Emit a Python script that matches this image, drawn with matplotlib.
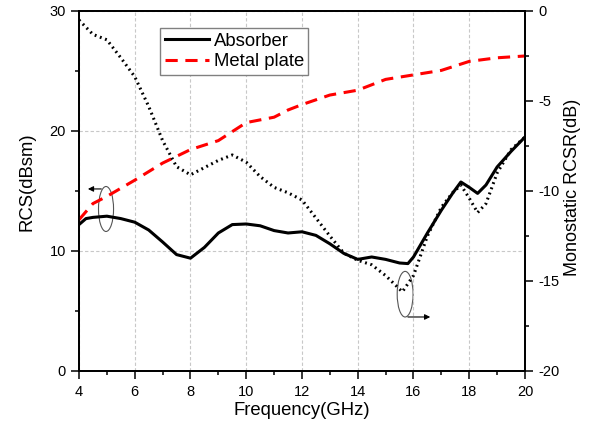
import matplotlib.pyplot as plt
from matplotlib.patches import Ellipse

plt.rcParams['font.family'] = ['Liberation Sans', 'DejaVu Sans']
plt.rcParams['axes.unicode_minus'] = False

# Absorber RCS (dBsm, left axis)
f_abs = [4.0, 4.25, 4.5, 5.0, 5.5, 6.0, 6.5, 7.0, 7.5, 8.0, 8.5, 9.0, 9.5, 10.0, 10.5, 11.0,
         11.5, 12.0, 12.5, 13.0, 13.5, 14.0, 14.5, 15.0, 15.5, 15.8, 16.0, 16.5, 17.0, 17.4,
         17.7, 18.0, 18.3, 18.6, 19.0, 19.5, 20.0]
rcs_abs = [12.2, 12.7, 12.8, 12.9, 12.7, 12.4, 11.75, 10.75, 9.7, 9.4, 10.3, 11.5, 12.2, 12.25,
           12.1, 11.7, 11.5, 11.6, 11.3, 10.6, 9.8, 9.3, 9.5, 9.3, 9.0, 8.95, 9.5, 11.5, 13.4,
           14.8, 15.75, 15.3, 14.8, 15.5, 17.0, 18.3, 19.5]

# Metal plate RCS, right axis scale
f_metal = [4.0, 4.5, 5.0, 6.0, 7.0, 8.0, 9.0, 10.0, 11.0, 11.5, 12.0, 13.0, 14.0, 15.0,
           16.0, 17.0, 18.0, 19.0, 20.0]
rcs_metal = [-11.6, -10.7, -10.3, -9.4, -8.45, -7.7, -7.2, -6.2, -5.9, -5.5, -5.2, -4.67,
             -4.4, -3.8, -3.55, -3.3, -2.8, -2.6, -2.5]

# Monostatic RCSR of absorber (dB, right axis)
f_rcsr = [4.0, 4.5, 5.0, 5.5, 6.0, 6.5, 7.0, 7.5, 8.0, 8.5, 9.0, 9.5, 10.0, 10.5, 11.0, 11.5,
          12.0, 12.5, 13.0, 13.5, 14.0, 14.5, 15.0, 15.6, 16.0, 16.5, 17.0, 17.4, 17.7, 18.0,
          18.3, 18.6, 19.0, 19.5, 20.0]
rcsr = [-0.5, -1.3, -1.6, -2.6, -3.65, -5.3, -7.2, -8.65, -9.1, -8.7, -8.3, -8.0, -8.4,
        -9.2, -9.8, -10.1, -10.5, -11.5, -12.5, -13.45, -13.85, -14.1, -14.7, -15.6, -14.7,
        -12.5, -10.9, -10.1, -9.67, -10.4, -11.2, -10.7, -9.0, -7.7, -7.0]

fig = plt.figure(figsize=(5.97, 4.21), dpi=100)
ax = fig.add_axes([0.1323, 0.1188, 0.7471, 0.8551])
ax2 = ax.twinx()

l1, = ax.plot(f_abs, rcs_abs, color='black', lw=2.2, label='Absorber')
l2, = ax2.plot(f_metal, rcs_metal, color='red', lw=2.2, linestyle=(0, (4, 2.5)), label='Metal plate')
ax2.plot(f_rcsr, rcsr, color='black', lw=2.2, linestyle=(0, (0.6, 1.2)))

ax.set_xlim(4, 20)
ax.set_ylim(0, 30)
ax2.set_ylim(-20, 0)
ax.set_xticks(range(4, 21, 2))
ax.set_xticks(range(5, 20, 2), minor=True)
ax.set_yticks([0, 10, 20, 30])
ax.set_yticks([5, 15, 25], minor=True)
ax2.set_yticks([0, -5, -10, -15, -20])
ax2.set_yticks([-2.5, -7.5, -12.5, -17.5], minor=True)

ax.grid(True, which='major', color='#c8c8c8', linestyle=(0, (3, 2)), lw=0.8)
for a in (ax, ax2):
    for s in a.spines.values():
        s.set_linewidth(1.3)
    a.tick_params(which='major', length=6, width=1.1, labelsize=10.5)
    a.tick_params(which='minor', length=3, width=1.1)
ax.tick_params(axis='x', pad=4)

ax.set_xlabel('Frequency(GHz)', fontsize=13.3)
ax.xaxis.set_label_coords(0.5, -0.085)
ax.set_ylabel('RCS(dBsm)', fontsize=13.3)
ax.yaxis.set_label_coords(-0.098, 0.525)
ax2.set_ylabel('Monostatic RCSR(dB)', fontsize=13.0)
ax2.yaxis.set_label_coords(1.087, 0.51)

leg = ax.legend(handles=[l1, l2], loc='upper left', bbox_to_anchor=(0.1816, 0.953),
                fontsize=13.3, fancybox=False, edgecolor='#808080', framealpha=1,
                handlelength=2.4, handletextpad=0.25, borderpad=0.25, labelspacing=0.2,
                borderaxespad=0)
leg.get_frame().set_linewidth(1.0)

# ellipse markers pointing to the matching axis
ax.add_patch(Ellipse((4.97, 13.5), 0.54, 3.75, fill=False, edgecolor='#555555', lw=0.8))
ax.annotate('', xy=(4.22, 15.17), xytext=(4.9, 15.17),
            arrowprops=dict(arrowstyle='-|>', color='black', lw=0.8, mutation_scale=8))
ax.add_patch(Ellipse((15.7, 6.4), 0.57, 3.8, fill=False, edgecolor='#555555', lw=0.8))
ax.annotate('', xy=(16.7, 4.5), xytext=(15.7, 4.5),
            arrowprops=dict(arrowstyle='-|>', color='black', lw=0.8, mutation_scale=8))

fig.savefig('out.png', dpi=100)
